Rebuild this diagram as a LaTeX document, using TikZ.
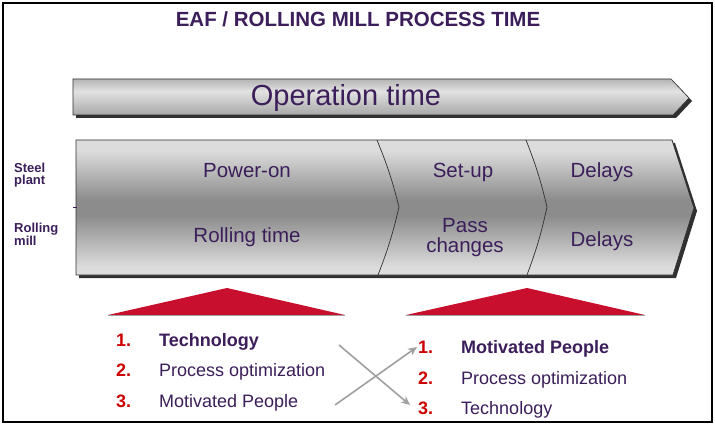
\documentclass[tikz,border=0pt]{standalone}
\usepackage{fontspec}
\setmainfont{Liberation Sans}
\usetikzlibrary{arrows.meta}
\definecolor{purp}{HTML}{3B1E5A}
\definecolor{numred}{HTML}{CC0000}
\definecolor{trired}{HTML}{C8102E}
\definecolor{shad}{HTML}{303030}
\definecolor{chlight}{HTML}{DCDCDC}
\definecolor{chdark}{HTML}{8C8C8C}
\definecolor{optop}{HTML}{B4B4B4}
\definecolor{opmid}{HTML}{E2E2E2}
\definecolor{opbot}{HTML}{A8A8A8}
\definecolor{arrgray}{HTML}{A0A0A0}
\pgfdeclareverticalshading{chevshade}{100bp}{color(0bp)=(chlight); color(25bp)=(chlight); color(28bp)=(chlight); color(47bp)=(chdark); color(53bp)=(chdark); color(71bp)=(chlight); color(75bp)=(chlight); color(100bp)=(chlight)}
\pgfdeclareverticalshading{opshade}{100bp}{color(0bp)=(opbot); color(25bp)=(opbot); color(58bp)=(opmid); color(75bp)=(optop); color(100bp)=(optop)}
\tikzset{
  cell/.style={font=\fontsize{20.5}{22}\selectfont, text=purp, inner sep=0pt, anchor=base},
  side/.style={font=\bfseries\fontsize{13}{13}\selectfont, text=purp, inner sep=0pt, anchor=base west},
  num/.style={font=\bfseries\fontsize{18}{18}\selectfont, text=numred, inner sep=0pt, anchor=base west},
  item/.style={font=\fontsize{18}{18}\selectfont, text=purp, inner sep=0pt, anchor=base west},
  bitem/.style={item, font=\bfseries\fontsize{18}{18}\selectfont},
  cross/.style={draw=arrgray, line width=1.6pt, -{Stealth[length=9pt,width=8pt]}},
  divider/.style={draw=shad, line width=0.7pt},
}
\begin{document}
\begin{tikzpicture}[x=1pt,y=-1pt]
\useasboundingbox (0,0) rectangle (715,425);
\fill[white] (0,0) rectangle (715,425);
\draw[black, line width=2pt] (3,3) rectangle (712,422);

% title
\node[font=\bfseries\fontsize{20.5}{22}\selectfont, text=purp, inner sep=0pt, anchor=base] (title) at (358,27) {EAF / ROLLING MILL PROCESS TIME};

% operation time arrow
\fill[shad] (76,82) -- (674,82) -- (692,101) -- (676,118) -- (76,118) -- cycle;
\shade[shading=opshade] (73,79) -- (671,79) -- (689,98) -- (673,115) -- (73,115) -- cycle;
\draw[shad, line width=0.6pt] (73,79) -- (671,79) -- (689,98) -- (673,115) -- (73,115) -- cycle;
\node[font=\fontsize{29}{30}\selectfont, text=purp, inner sep=0pt, anchor=base] (optime) at (346,106) {Operation time};

% big chevron
\fill[shad] (79,143) -- (675,143) -- (697,211) -- (676,278) -- (79,278) -- cycle;
\shade[shading=chevshade] (76,140) -- (672,140) -- (694,208) -- (673,275) -- (76,275) -- cycle;
\draw[shad, line width=0.8pt] (76,140) -- (672,140) -- (694,208) -- (673,275) -- (76,275) -- cycle;
\draw[divider] (377,140) to[bend left=4] (399,207) to[bend left=4] (378,275);
\draw[divider] (526,140) to[bend left=4] (547,207) to[bend left=4] (527,275);
\draw[purp, line width=0.6pt] (73,207) -- (77,207);

\node[cell] (poweron) at (247,178) {Power-on};
\node[cell] (rolling) at (247,242) {Rolling time};
\node[cell] (setup) at (463,178) {Set-up};
\node[cell] (pass) at (465,232) {Pass};
\node[cell] (changes) at (465,252) {changes};
\node[cell] (delays1) at (602,178) {Delays};
\node[cell] (delays2) at (602,246) {Delays};

\node[side] (steel) at (14,172) {Steel};
\node[side] (plant) at (14,185) {plant};
\node[side] (rollingm) at (14,232) {Rolling};
\node[side] (mill) at (14,245) {mill};

% red triangles
\fill[trired] (108,315) -- (227,288) -- (345,315) -- cycle;
\draw[arrgray, line width=1.2pt] (108,315.5) -- (345,315.5);
\fill[trired] (406,315) -- (527,288) -- (645,315) -- cycle;
\draw[arrgray, line width=1.2pt] (406,315.5) -- (645,315.5);

% left list
\node[num] (l1n) at (116,346) {1.};
\node[bitem] (l1) at (159,346) {Technology};
\node[num] (l2n) at (116,376) {2.};
\node[item] (l2) at (159,376) {Process optimization};
\node[num] (l3n) at (116,407) {3.};
\node[item] (l3) at (159,407) {Motivated People};

% right list
\node[num] (r1n) at (418,353) {1.};
\node[bitem] (r1) at (461,353) {Motivated People};
\node[num] (r2n) at (418,384) {2.};
\node[item] (r2) at (461,384) {Process optimization};
\node[num] (r3n) at (418,414) {3.};
\node[item] (r3) at (461,414) {Technology};

% crossing arrows
\coordinate (c1s) at (339,345);
\coordinate (c1e) at (410,405);
\coordinate (c2s) at (335,405);
\coordinate (c2e) at (417,347);
\draw[cross] (c1s) -- (c1e);
\draw[cross] (c2s) -- (c2e);
\end{tikzpicture}
\end{document}
